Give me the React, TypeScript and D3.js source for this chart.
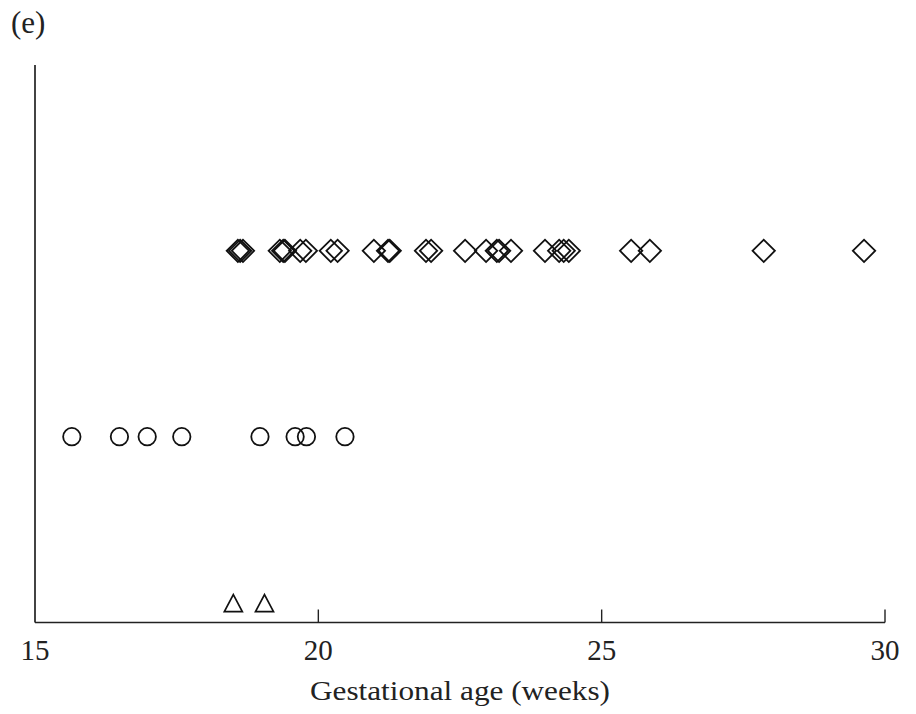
import React from "react";
import * as d3 from "d3";

const diamondWeeks = [
  18.58, 18.62, 18.67, 19.32, 19.38, 19.41, 19.68, 19.78, 20.22, 20.34,
  20.98, 21.23, 21.26, 21.9, 21.99, 22.59, 22.96, 23.15, 23.19, 23.4,
  24.0, 24.25, 24.33, 24.42, 25.52, 25.85, 27.86, 29.63,
];
const circleWeeks = [15.65, 16.49, 16.98, 17.59, 18.97, 19.59, 19.79, 20.47];
const triangleWeeks = [18.5, 19.05];
const groupLevels = { triangle: 0.1, circle: 1, diamond: 2 };
const xTicks = [15, 20, 25, 30];
const panelLabel = "(e)";
const xTitle = "Gestational age (weeks)";

const W = 916;
const H = 714;
const left = 35;
const right = 885;
const bottom = 622.5;
const top = 65;

export default function App() {
  const x = d3.scaleLinear().domain([15, 30]).range([left, right]);
  const y = d3.scaleLinear().domain([0, 3]).range([bottom, top]);
  const font = "'Liberation Serif', 'DejaVu Serif', serif";
  const diamond = d3.symbol().type(d3.symbolSquare).size(250)();
  const tri = (cx: number, cy: number) => {
    const h = 17, w = 18;
    return `M${cx},${cy - h * 0.55}L${cx + w / 2},${cy + h * 0.45}L${cx - w / 2},${cy + h * 0.45}Z`;
  };
  return (
    <svg width={W} height={H} style={{ position: "absolute", left: 0, top: 0, background: "#fff" }}>
      <text x={11} y={33} fontFamily={font} fontSize={31} fill="#222">{panelLabel}</text>
      <line x1={left} x2={left} y1={top} y2={bottom} stroke="#222" strokeWidth={1.7} />
      <line x1={left} x2={right} y1={bottom} y2={bottom} stroke="#222" strokeWidth={1.7} />
      {xTicks.map((t) => (
        <g key={t}>
          {t !== 15 && (
            <line x1={x(t)} x2={x(t)} y1={bottom} y2={bottom - 13} stroke="#222" strokeWidth={1.4} />
          )}
          <text x={x(t)} y={660} textAnchor="middle" fontFamily={font} fontSize={29} fill="#222">{t}</text>
        </g>
      ))}
      <text x={(left + right) / 2} y={700} textAnchor="middle" fontFamily={font} fontSize={27}
        textLength={300} lengthAdjust="spacingAndGlyphs" fill="#222">{xTitle}</text>
      {diamondWeeks.map((v, i) => (
        <path key={"d" + i} d={diamond!} transform={`translate(${x(v)},${y(groupLevels.diamond)}) rotate(45)`}
          fill="none" stroke="#111" strokeWidth={1.8} />
      ))}
      {circleWeeks.map((v, i) => (
        <circle key={"c" + i} cx={x(v)} cy={y(groupLevels.circle)} r={8.7} fill="none" stroke="#111" strokeWidth={1.8} />
      ))}
      {triangleWeeks.map((v, i) => (
        <path key={"t" + i} d={tri(x(v), y(groupLevels.triangle))} fill="none" stroke="#111" strokeWidth={1.7} />
      ))}
    </svg>
  );
}
